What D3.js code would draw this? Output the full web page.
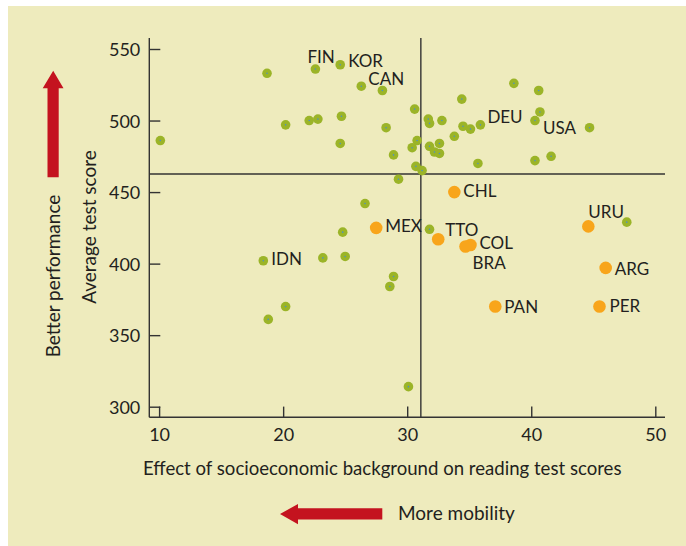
<!DOCTYPE html>
<html>
<head>
<meta charset="utf-8">
<title>Performance vs mobility</title>
<style>
body { margin: 0; background: #fff; }
text {
  font-family: Lato, "Open Sans", sans-serif;
  fill: #231f20;
}
.axis text { font-size: 18px; }
.axis path.domain { display: none; }
.axis line { stroke: #333; stroke-width: 1.4px; }
.ref { stroke: #333; stroke-width: 1.4px; }
.lbl { font-size: 17px; }
</style>
</head>
<body>
<script src="https://cdn.jsdelivr.net/npm/d3@7"></script>
<script>

// effect of socioeconomic background (x) vs average reading score (y)
// latin american countries, highlighted in orange
var latamCodes  = ["MEX", "CHL", "TTO", "COL", "BRA", "URU", "ARG", "PAN", "PER"];
var latamEffect = [27.5, 33.8, 32.5, 35.1, 34.7, 44.6, 46.0, 37.1, 45.5];
var latamScore  = [425, 450, 417, 413, 412, 426, 397, 370, 370];

// other countries, green ("" = no label)
var otherCodes = ["", "", "FIN", "KOR", "CAN", "", "", "", "", "", "",
                  "", "", "", "", "", "", "", "", "", "",
                  "", "", "", "USA", "", "", "", "", "", "",
                  "", "", "", "", "DEU", "", "", "", "", "",
                  "", "", "IDN", "", "", "", "", "", "", ""];
var otherEffect = [10.1, 18.7, 22.6, 24.6, 26.3, 28.0, 20.2, 22.1, 22.8, 24.7, 24.6,
                   28.3, 30.6, 30.8, 30.4, 28.9, 30.7, 29.3, 26.6, 31.2, 38.6,
                   40.6, 34.4, 40.7, 40.3, 31.7, 31.8, 32.8, 34.5, 35.1, 33.8,
                   31.8, 32.6, 32.2, 32.6, 35.9, 35.7, 40.3, 41.6, 44.7, 24.8,
                   23.2, 25.0, 18.4, 28.9, 28.6, 20.2, 18.8, 30.1, 31.8, 47.7];
var otherScore = [486, 533, 536, 539, 524, 521, 497, 500, 501, 503, 484,
                  495, 508, 486, 481, 476, 468, 459, 442, 465, 526,
                  521, 515, 506, 500, 501, 498, 500, 496, 494, 489,
                  482, 484, 478, 477, 497, 470, 472, 475, 495, 422,
                  404, 405, 402, 391, 384, 370, 361, 314, 424, 429];

var xTicks = [10, 20, 30, 40, 50];
var yTicks = [300, 350, 400, 450, 500, 550];
var avgEffect = 31.1,
    avgScore = 462.6;

// label placement next to each point (pixels)
var labelPos = {
  FIN: [-8, -6], KOR: [8, 2], CAN: [7, -1], DEU: [7, -2], USA: [8, 13],
  IDN: [8, 4], MEX: [9, 4], CHL: [9, 5], TTO: [7, -3], COL: [9, 4],
  BRA: [7, 23], URU: [0, -8], ARG: [9, 7], PAN: [9, 6], PER: [10, 5]
};

var width = 686,
    height = 546;

var svg = d3.select("body").append("svg")
    .attr("width", width)
    .attr("height", height);

svg.append("rect")
    .attr("x", 8)
    .attr("y", 6)
    .attr("width", width - 8)
    .attr("height", height - 6)
    .attr("fill", "#eeebbd");

var x = d3.scaleLinear().domain([10, 50]).range([159.1, 655.3]);
var y = d3.scaleLinear().domain([300, 550]).range([406.7, 49]);

var axisX = 149.3,
    axisY = 417.3;

// axes
svg.append("g")
    .attr("class", "axis")
    .attr("transform", "translate(" + axisX + ",0)")
    .call(d3.axisLeft(y).tickValues(yTicks).tickSizeInner(-11).tickSizeOuter(0).tickPadding(9))
    .selectAll("text").attr("dy", "0.36em");

svg.append("g")
    .attr("class", "axis")
    .attr("transform", "translate(0," + axisY + ")")
    .call(d3.axisBottom(x).tickValues(xTicks).tickSizeInner(-10.7).tickSizeOuter(0))
    .selectAll("text").attr("y", 24).attr("dy", 0);

svg.append("line").attr("class", "ref")
    .attr("x1", axisX).attr("x2", axisX)
    .attr("y1", 38).attr("y2", axisY);
svg.append("line").attr("class", "ref")
    .attr("x1", axisX).attr("x2", 665)
    .attr("y1", axisY).attr("y2", axisY);

// average lines
svg.append("line").attr("class", "ref")
    .attr("x1", x(avgEffect)).attr("x2", x(avgEffect))
    .attr("y1", 38).attr("y2", axisY);
svg.append("line").attr("class", "ref")
    .attr("x1", axisX).attr("x2", 665)
    .attr("y1", y(avgScore)).attr("y2", y(avgScore));

var others = otherCodes.map(function(c, i) {
  return {code: c, effect: otherEffect[i], score: otherScore[i]};
});
var latam = latamCodes.map(function(c, i) {
  return {code: c, effect: latamEffect[i], score: latamScore[i]};
});

var g = svg.append("g");

g.selectAll(".other")
    .data(others)
    .enter().append("circle")
    .attr("class", "other")
    .attr("cx", function(d) { return x(d.effect); })
    .attr("cy", function(d) { return y(d.score); })
    .attr("r", 4.8)
    .attr("fill", "#9bb428");

g.selectAll(".dot")
    .data(others)
    .enter().append("circle")
    .attr("class", "dot")
    .attr("cx", function(d) { return x(d.effect); })
    .attr("cy", function(d) { return y(d.score); })
    .attr("r", 0.8)
    .attr("fill", "#4d8fc9");

g.selectAll(".latam")
    .data(latam)
    .enter().append("circle")
    .attr("class", "latam")
    .attr("cx", function(d) { return x(d.effect); })
    .attr("cy", function(d) { return y(d.score); })
    .attr("r", 6.3)
    .attr("fill", "#f8a51b");

var labelled = others.filter(function(d) { return d.code != ""; }).concat(latam);

g.selectAll(".lbl")
    .data(labelled)
    .enter().append("text")
    .attr("class", "lbl")
    .attr("x", function(d) { return x(d.effect) + labelPos[d.code][0]; })
    .attr("y", function(d) { return y(d.score) + labelPos[d.code][1]; })
    .text(function(d) { return d.code; });

// axis titles
svg.append("text")
    .attr("x", 143)
    .attr("y", 475)
    .style("font-size", "18.6px")
    .text("Effect of socioeconomic background on reading test scores");

svg.append("text")
    .attr("transform", "translate(96,227) rotate(-90)")
    .attr("text-anchor", "middle")
    .style("font-size", "19px")
    .text("Average test score");

svg.append("text")
    .attr("transform", "translate(60,276) rotate(-90)")
    .attr("text-anchor", "middle")
    .style("font-size", "19px")
    .text("Better performance");

svg.append("text")
    .attr("x", 398)
    .attr("y", 520)
    .style("font-size", "19px")
    .text("More mobility");

// red arrows
var red = "#c4131f";
svg.append("path")
    .attr("fill", red)
    .attr("d", "M53.2,70.7 L63.5,88.3 L58.7,88.3 L58.7,177.3 L47.5,177.3 L47.5,88.3 L42.7,88.3 Z");

svg.append("path")
    .attr("fill", red)
    .attr("d", "M280,514 L298,504 L298,508.3 L382.3,508.3 L382.3,519.5 L298,519.5 L298,524.3 Z");

</script>
</body>
</html>
